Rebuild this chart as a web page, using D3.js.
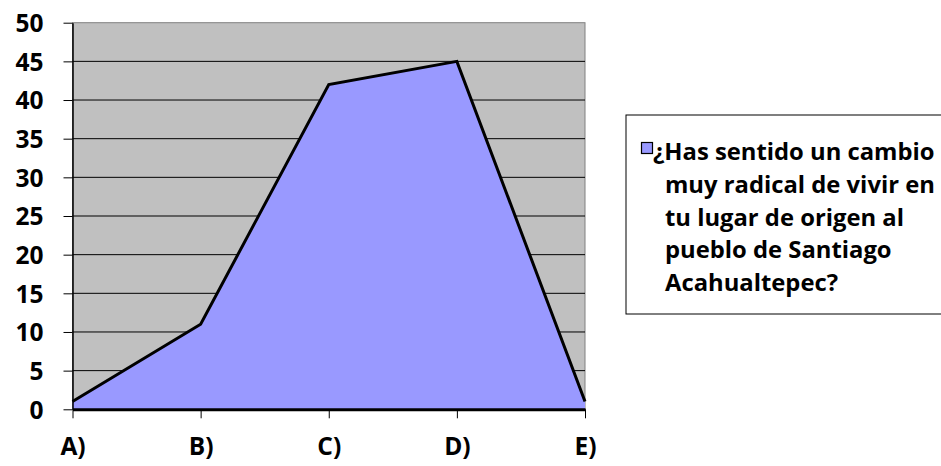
<!DOCTYPE html>
<html><head><meta charset="utf-8">
<script src="https://cdn.jsdelivr.net/npm/d3@7"></script>
<style>body{margin:0;background:#fff}svg{display:block}</style>
</head><body>
<svg id="c" width="941" height="466"></svg>
<script>
const categories = ["A)", "B)", "C)", "D)", "E)"];
const values = [1, 11, 42, 45, 1];
const yTicks = [0, 5, 10, 15, 20, 25, 30, 35, 40, 45, 50];
const legendLines = ["¿Has sentido un cambio", "muy radical de vivir en", "tu lugar de origen al", "pueblo de Santiago", "Acahualtepec?"];

const svg = d3.select("#c");
const font = "'Open Sans', Lato, sans-serif";
const fs = 24.5;
const lfs = 23.8;
const L = 72.5, R = 585, T = 22.7, B = 409.3;
const x = d3.scalePoint().domain(categories).range([L, R]);
const y = d3.scaleLinear().domain([0, 50]).range([B, T]);

svg.append("rect").attr("x", L).attr("y", T).attr("width", R - L).attr("height", B - T)
  .attr("fill", "#C0C0C0").attr("stroke", "#808080").attr("stroke-width", 1);

svg.append("g").selectAll("line").data(yTicks.filter(d => d > 0 && d < 50)).join("line")
  .attr("x1", L).attr("x2", R).attr("y1", d => y(d)).attr("y2", d => y(d))
  .attr("stroke", "#000").attr("stroke-width", 1);

const area = d3.area().x((d, i) => x(categories[i])).y0(y(0)).y1(d => y(d));
svg.append("path").datum(values).attr("d", area).attr("fill", "#9999FF");
const line = d3.line().x((d, i) => x(categories[i])).y(d => y(d));
svg.append("path").datum(values).attr("d", line).attr("fill", "none")
  .attr("stroke", "#000").attr("stroke-width", 3).attr("stroke-linejoin", "miter");

// y axis
const ya = svg.append("g").attr("transform", `translate(${L},0)`)
  .call(d3.axisLeft(y).tickValues(yTicks).tickSize(9).tickPadding(20).tickSizeOuter(0));
ya.select(".domain").attr("stroke", "#000").attr("stroke-width", 1.5);
ya.selectAll(".tick line").attr("stroke", "#000").attr("stroke-width", 1);
ya.selectAll("text").attr("font-family", font).attr("font-weight", "bold")
  .attr("font-size", fs).attr("fill", "#000").attr("dy", "0.36em");

// x axis
const xa = svg.append("g").attr("transform", `translate(0,${B})`)
  .call(d3.axisBottom(x).tickSize(9).tickPadding(19).tickSizeOuter(0));
xa.select(".domain").attr("stroke", "#000").attr("stroke-width", 3);
xa.selectAll(".tick line").attr("stroke", "#000").attr("stroke-width", 1);
xa.selectAll("text").attr("font-family", font).attr("font-weight", "bold")
  .attr("font-size", fs).attr("fill", "#000").attr("dy", "0.71em");

// legend
const lg = svg.append("g");
lg.append("rect").attr("x", 626).attr("y", 115).attr("width", 330).attr("height", 199)
  .attr("fill", "#fff").attr("stroke", "#000").attr("stroke-width", 1);
lg.append("rect").attr("x", 641.5).attr("y", 142.5).attr("width", 11).attr("height", 11)
  .attr("fill", "#9999FF").attr("stroke", "#000").attr("stroke-width", 1.2);
lg.selectAll("text.l").data(legendLines).join("text").attr("class", "l")
  .attr("x", (d, i) => i === 0 ? 653 : 665).attr("y", (d, i) => 160 + i * 32.8)
  .attr("font-family", font).attr("font-weight", "bold").attr("font-size", lfs)
  .attr("fill", "#000").text(d => d);
</script>
</body></html>
